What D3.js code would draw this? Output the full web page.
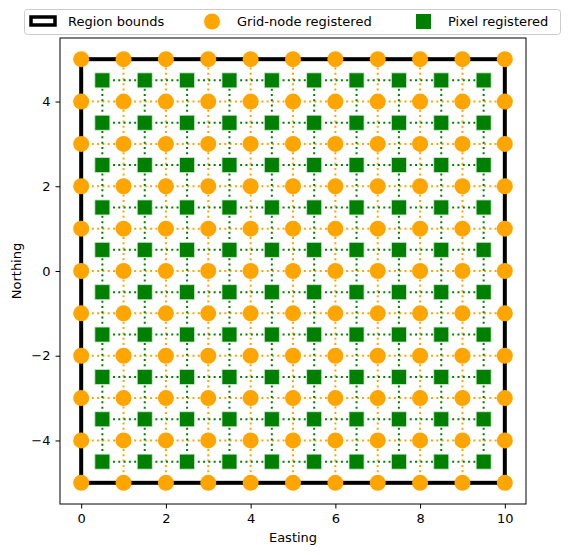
<!DOCTYPE html>
<html><head><meta charset="utf-8">
<script src="https://cdn.jsdelivr.net/npm/d3@7"></script>
<style>body{margin:0;background:#fff}text{font-family:"DejaVu Sans",sans-serif;font-size:13px}</style>
</head><body><svg id="c" width="571" height="555"></svg>
<script>
// grid definitions
const nodeX = [0,1,2,3,4,5,6,7,8,9,10]
const nodeY = [-5,-4,-3,-2,-1,0,1,2,3,4,5]
const pixX = [0.5,1.5,2.5,3.5,4.5,5.5,6.5,7.5,8.5,9.5]
const pixY = [-4.5,-3.5,-2.5,-1.5,-0.5,0.5,1.5,2.5,3.5,4.5]
const region = [0, 10, -5, 5]
const xTicks = [0,2,4,6,8,10]
const yTicks = [-4,-2,0,2,4]

const svg = d3.select("#c")
const x = d3.scaleLinear().domain([-0.5, 10.5]).range([60, 526])
const y = d3.scaleLinear().domain([-5.5, 5.5]).range([504, 38])

// dotted grid lines
const g = svg.append("g")
nodeY.forEach(v => g.append("line").attr("x1", x(0)).attr("x2", x(10)).attr("y1", y(v)).attr("y2", y(v))
    .attr("stroke", "orange").attr("stroke-width", 2).attr("stroke-dasharray", "2,3.3"))
nodeX.forEach(v => g.append("line").attr("x1", x(v)).attr("x2", x(v)).attr("y1", y(-5)).attr("y2", y(5))
    .attr("stroke", "orange").attr("stroke-width", 2).attr("stroke-dasharray", "2,3.3"))
pixY.forEach(v => g.append("line").attr("x1", x(0.5)).attr("x2", x(9.5)).attr("y1", y(v)).attr("y2", y(v))
    .attr("stroke", "green").attr("stroke-width", 2).attr("stroke-dasharray", "2,3.3"))
pixX.forEach(v => g.append("line").attr("x1", x(v)).attr("x2", x(v)).attr("y1", y(-4.5)).attr("y2", y(4.5))
    .attr("stroke", "green").attr("stroke-width", 2).attr("stroke-dasharray", "2,3.3"))

// region bounds
svg.append("rect").attr("x", x(region[0])).attr("y", y(region[3]))
    .attr("width", x(region[1]) - x(region[0])).attr("height", y(region[2]) - y(region[3]))
    .attr("fill", "none").attr("stroke", "#000").attr("stroke-width", 4)

const nodes = nodeX.flatMap(a => nodeY.map(b => [a, b]))
svg.append("g").selectAll("circle").data(nodes).join("circle")
    .attr("cx", d => x(d[0])).attr("cy", d => y(d[1])).attr("r", 8).attr("fill", "orange")
const pix = pixX.flatMap(a => pixY.map(b => [a, b]))
svg.append("g").selectAll("rect").data(pix).join("rect")
    .attr("x", d => x(d[0]) - 7.5).attr("y", d => y(d[1]) - 7.5).attr("width", 15).attr("height", 15)
    .attr("fill", "green").attr("stroke", "#cfe8cf").attr("stroke-width", 0.8)

// axes
svg.append("rect").attr("x", 60).attr("y", 38).attr("width", 466).attr("height", 466)
    .attr("fill", "none").attr("stroke", "#000").attr("stroke-width", 1)
const xa = svg.append("g").attr("transform", "translate(0,504)")
    .call(d3.axisBottom(x).tickValues(xTicks).tickSize(4.5).tickPadding(5))
const ya = svg.append("g").attr("transform", "translate(60,0)")
    .call(d3.axisLeft(y).tickValues(yTicks).tickSize(4.5).tickPadding(5).tickFormat(d => d < 0 ? "\u2212" + (-d) : d))
;[xa, ya].forEach(a => { a.select(".domain").remove(); a.selectAll("text").style("font-size", "13px").attr("fill", "#000") })
svg.append("text").attr("x", 293).attr("y", 542).attr("text-anchor", "middle").text("Easting")
svg.append("text").attr("transform", "translate(21,271) rotate(-90)").attr("text-anchor", "middle").text("Northing")

// legend
const lg = svg.append("g")
lg.append("rect").attr("x", 24.5).attr("y", 9.5).attr("width", 536).attr("height", 25).attr("rx", 3)
    .attr("fill", "#fff").attr("stroke", "#ccc")
lg.append("rect").attr("x", 31).attr("y", 17).attr("width", 24).attr("height", 8).attr("fill", "#fff")
    .attr("stroke", "#000").attr("stroke-width", 3.5)
lg.append("text").attr("x", 68).attr("y", 26).text("Region bounds")
lg.append("circle").attr("cx", 212).attr("cy", 21.5).attr("r", 8).attr("fill", "orange")
lg.append("text").attr("x", 237).attr("y", 26).text("Grid-node registered")
lg.append("rect").attr("x", 416).attr("y", 14).attr("width", 15).attr("height", 15).attr("fill", "green")
lg.append("text").attr("x", 448).attr("y", 26).text("Pixel registered")
</script></body></html>
